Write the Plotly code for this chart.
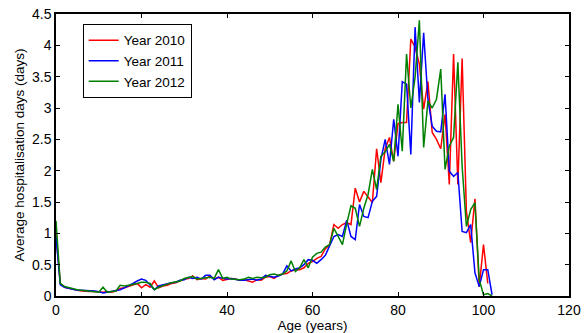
import plotly.graph_objects as go

ages_2010 = list(range(0, 102))
ages_2011 = list(range(0, 103))
ages_2012 = list(range(0, 103))

days_2010 = [
    1.00, 0.20, 0.14, 0.12, 0.10, 0.09, 0.08, 0.07, 0.07, 0.07,
    0.06, 0.06, 0.07, 0.06, 0.08, 0.12, 0.13, 0.15, 0.18, 0.20,
    0.13, 0.18, 0.14, 0.24, 0.13, 0.16, 0.17, 0.20, 0.21, 0.24,
    0.27, 0.28, 0.32, 0.26, 0.28, 0.27, 0.32, 0.27, 0.30, 0.25,
    0.26, 0.28, 0.27, 0.25, 0.26, 0.24, 0.22, 0.26, 0.25, 0.30,
    0.31, 0.28, 0.33, 0.35, 0.36, 0.40, 0.42, 0.42, 0.45, 0.52,
    0.55, 0.60, 0.63, 0.75, 0.82, 1.14, 1.08, 1.14, 1.17, 1.14,
    1.72, 1.50, 1.67, 1.58, 1.49, 2.35, 1.81, 2.35, 2.53, 2.15,
    2.75, 2.77, 2.77, 4.10, 3.97, 3.70, 2.98, 3.42, 2.61, 2.50,
    2.35, 2.90, 1.78, 3.86, 1.78, 3.79, 1.35, 0.85, 1.55, 0.15,
    0.82, 0.20,
]

days_2011 = [
    0.95, 0.18, 0.14, 0.12, 0.11, 0.09, 0.09, 0.09, 0.08, 0.08,
    0.07, 0.05, 0.06, 0.07, 0.08, 0.10, 0.13, 0.16, 0.20, 0.24,
    0.27, 0.25, 0.18, 0.10, 0.16, 0.18, 0.20, 0.21, 0.22, 0.25,
    0.26, 0.30, 0.28, 0.30, 0.27, 0.33, 0.33, 0.26, 0.30, 0.28,
    0.27, 0.28, 0.26, 0.25, 0.25, 0.26, 0.27, 0.25, 0.27, 0.33,
    0.31, 0.30, 0.32, 0.35, 0.48, 0.40, 0.43, 0.45, 0.50, 0.58,
    0.57, 0.52, 0.58, 0.65, 0.80, 0.95, 0.98, 0.95, 1.21, 0.95,
    0.90, 1.46, 1.27, 1.25, 1.51, 1.59, 2.18, 2.50, 2.10, 2.82,
    2.23, 3.42, 3.38, 2.26, 4.29, 3.09, 4.20, 3.14, 2.71, 2.63,
    2.62, 3.22, 1.99, 1.91, 1.97, 1.03, 1.01, 1.14, 0.37, 0.15,
    0.42, 0.42, 0.02,
]

days_2012 = [
    1.20, 0.20, 0.15, 0.13, 0.11, 0.10, 0.09, 0.08, 0.07, 0.06,
    0.06, 0.14, 0.06, 0.07, 0.08, 0.17, 0.16, 0.17, 0.18, 0.20,
    0.22, 0.22, 0.20, 0.10, 0.14, 0.17, 0.19, 0.21, 0.23, 0.24,
    0.28, 0.30, 0.31, 0.27, 0.28, 0.30, 0.30, 0.28, 0.42, 0.28,
    0.30, 0.27, 0.26, 0.26, 0.27, 0.30, 0.28, 0.30, 0.29, 0.30,
    0.34, 0.35, 0.33, 0.35, 0.40, 0.56, 0.39, 0.45, 0.58, 0.45,
    0.62, 0.68, 0.70, 0.78, 0.82, 1.08, 0.95, 0.82, 1.15, 1.44,
    1.40, 1.11, 1.40, 1.62, 2.02, 1.70, 2.23, 2.30, 2.42, 2.15,
    3.06, 2.31, 3.86, 3.00, 3.49, 4.40, 2.37, 3.11, 3.00, 3.14,
    3.62, 2.02, 2.39, 2.53, 3.73, 2.07, 1.11, 1.38, 1.49, 0.26,
    0.02, 0.04, 0.00,
]

x_ticks = [0, 20, 40, 60, 80, 100, 120]
y_ticks = [0, 0.5, 1, 1.5, 2, 2.5, 3, 3.5, 4, 4.5]
y_tick_labels = ["0", "0.5", "1", "1.5", "2", "2.5", "3", "3.5", "4", "4.5"]

fig = go.Figure()
for name, xs, ys, col in [
    ("Year 2010", ages_2010, days_2010, "#ff0000"),
    ("Year 2011", ages_2011, days_2011, "#0000ff"),
    ("Year 2012", ages_2012, days_2012, "#008000"),
]:
    fig.add_trace(go.Scatter(x=xs, y=ys, mode="lines", name=name,
                             line=dict(color=col, width=1.5)))

axis_common = dict(
    showgrid=False, zeroline=False, showline=True, linecolor="black",
    linewidth=1.5, mirror="allticks", ticks="inside", ticklen=4,
    tickcolor="black", automargin=False,
    tickfont=dict(family="Liberation Sans, Arial", size=14, color="black"),
)

fig.update_layout(
    width=587, height=333,
    margin=dict(l=56, r=18, t=14, b=37),
    paper_bgcolor="white", plot_bgcolor="white",
    font=dict(family="Liberation Sans, Arial", size=13.5, color="black"),
    xaxis=dict(range=[0, 120], tickvals=x_ticks,
               title=dict(text="Age (years)", standoff=4,
                          font=dict(size=13.5)),
               **axis_common),
    yaxis=dict(range=[0, 4.5], tickvals=y_ticks, ticktext=y_tick_labels,
               title=dict(text="Average hospitalisation days (days)", standoff=4,
                          font=dict(size=13.5)),
               **axis_common),
    legend=dict(x=0.052, y=0.965, xanchor="left", yanchor="top",
                bordercolor="black", borderwidth=1, bgcolor="white",
                font=dict(size=13.5), tracegroupgap=0, itemwidth=30),
    showlegend=True,
)

fig.write_html("out.html",
               config={"displayModeBar": False},
               post_script="document.body.style.margin='0';document.body.style.padding='0';")
